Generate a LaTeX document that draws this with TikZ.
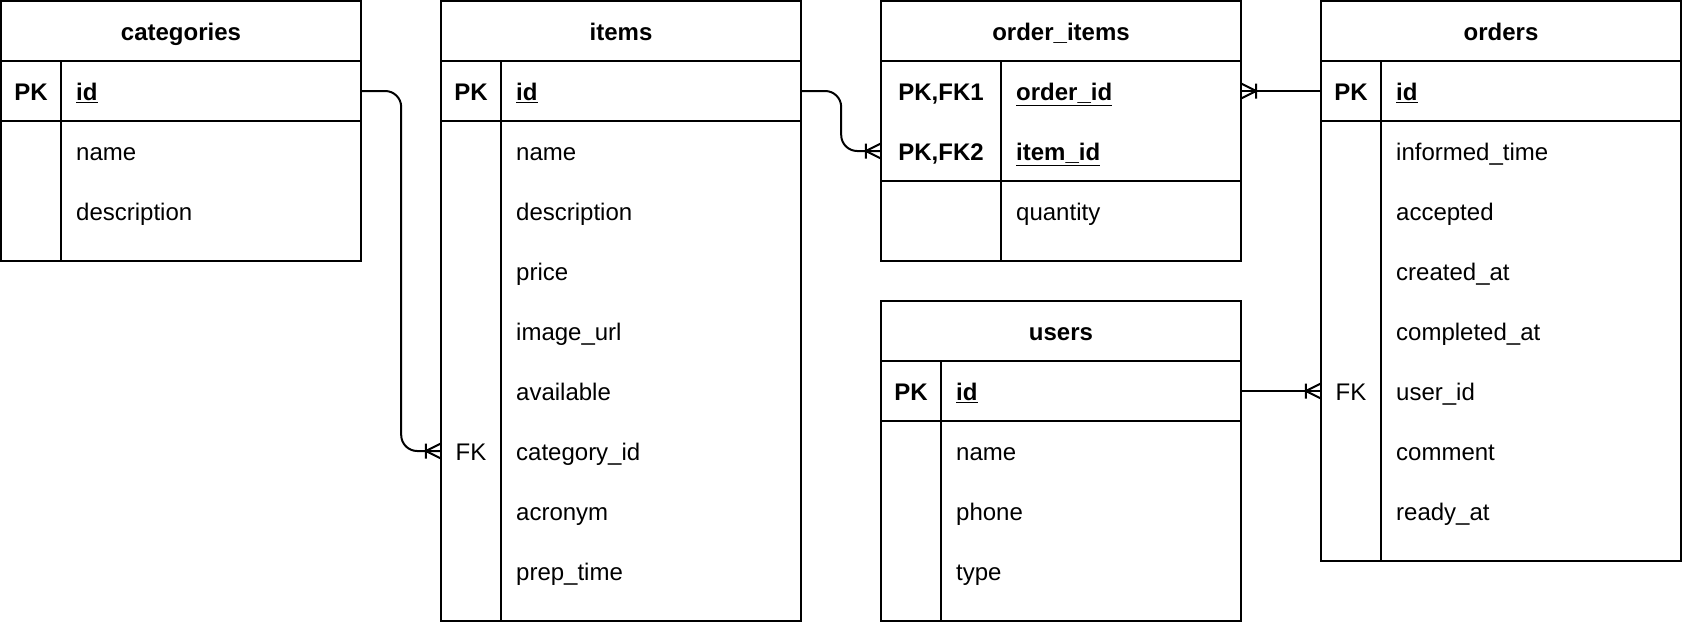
\documentclass[tikz,border=0pt]{standalone}
\usepackage{fontspec}
\setmainfont{Liberation Sans}
\usetikzlibrary{calc}
\tikzset{
  tbl/.style={draw=black, line width=2pt},
  conn/.style={draw=black, line width=2pt, line join=round},
  rowspan/.style={draw=none, inner sep=0pt, minimum width=360pt, minimum height=60pt},
  txtbase/.style={inner sep=0pt, text height=19pt, text depth=0pt, font=\fontsize{24}{29}\selectfont},
  keytxt/.style={txtbase, anchor=center},
  fldtxt/.style={txtbase, anchor=west},
  hdr/.style={txtbase, anchor=center, font=\fontsize{24}{29}\selectfont\bfseries},
  crowfoot/.pic={\draw[conn] (0,-7.5) -- (-15,0) -- (0,7.5) (-15,-7.5) -- (-15,7.5);}
}
\newcommand{\erfield}[6]{%
  \node[rowspan] (#1) at ({#2+180},#4) {};
  \node[keytxt] at ({#2+#3/2},#4) {#5};
  \node[fldtxt] at ({#2+#3+15},#4) {#6};
}
\begin{document}
\begin{tikzpicture}[x=1pt, y=-1pt]
\useasboundingbox (0,0) rectangle (1682,622);

% categories
\draw[tbl] (1,1) rectangle (361,261);
\draw[tbl] (1,61) -- (361,61) (1,121) -- (361,121) (61,61) -- (61,261);
\node[hdr] (cat) at (181,31) {categories};
\erfield{cat-id}{1}{60}{91}{\textbf{PK}}{\textbf{\underline{id}}}
\erfield{cat-name}{1}{60}{151}{}{name}
\erfield{cat-desc}{1}{60}{211}{}{description}

% items
\draw[tbl] (441,1) rectangle (801,621);
\draw[tbl] (441,61) -- (801,61) (441,121) -- (801,121) (501,61) -- (501,621);
\node[hdr] (items) at (621,31) {items};
\erfield{it-id}{441}{60}{91}{\textbf{PK}}{\textbf{\underline{id}}}
\erfield{it-name}{441}{60}{151}{}{name}
\erfield{it-desc}{441}{60}{211}{}{description}
\erfield{it-price}{441}{60}{271}{}{price}
\erfield{it-img}{441}{60}{331}{}{image\_url}
\erfield{it-avail}{441}{60}{391}{}{available}
\erfield{it-cat}{441}{60}{451}{FK}{category\_id}
\erfield{it-acr}{441}{60}{511}{}{acronym}
\erfield{it-prep}{441}{60}{571}{}{prep\_time}

% order_items
\draw[tbl] (881,1) rectangle (1241,261);
\draw[tbl] (881,61) -- (1241,61) (881,181) -- (1241,181) (1001,61) -- (1001,261);
\node[hdr] (oi) at (1061,31) {order\_items};
\erfield{oi-fk1}{881}{120}{91}{\textbf{PK,FK1}}{\textbf{\underline{order\_id}}}
\erfield{oi-fk2}{881}{120}{151}{\textbf{PK,FK2}}{\textbf{\underline{item\_id}}}
\erfield{oi-qty}{881}{120}{211}{}{quantity}

% users
\draw[tbl] (881,301) rectangle (1241,621);
\draw[tbl] (881,361) -- (1241,361) (881,421) -- (1241,421) (941,361) -- (941,621);
\node[hdr] (users) at (1061,331) {users};
\erfield{us-id}{881}{60}{391}{\textbf{PK}}{\textbf{\underline{id}}}
\erfield{us-name}{881}{60}{451}{}{name}
\erfield{us-phone}{881}{60}{511}{}{phone}
\erfield{us-type}{881}{60}{571}{}{type}

% orders
\draw[tbl] (1321,1) rectangle (1681,561);
\draw[tbl] (1321,61) -- (1681,61) (1321,121) -- (1681,121) (1381,61) -- (1381,561);
\node[hdr] (orders) at (1501,31) {orders};
\erfield{or-id}{1321}{60}{91}{\textbf{PK}}{\textbf{\underline{id}}}
\erfield{or-inf}{1321}{60}{151}{}{informed\_time}
\erfield{or-acc}{1321}{60}{211}{}{accepted}
\erfield{or-cre}{1321}{60}{271}{}{created\_at}
\erfield{or-com}{1321}{60}{331}{}{completed\_at}
\erfield{or-uid}{1321}{60}{391}{FK}{user\_id}
\erfield{or-cmt}{1321}{60}{451}{}{comment}
\erfield{or-rdy}{1321}{60}{511}{}{ready\_at}

% connectors
\draw[conn, rounded corners=16pt] (cat-id.east) -- ++(40,0) |- (it-cat.west);
\pic at (it-cat.west) {crowfoot};
\draw[conn, rounded corners=16pt] (it-id.east) -- ++(40,0) |- (oi-fk2.west);
\pic at (oi-fk2.west) {crowfoot};
\draw[conn] (or-id.west) -- (oi-fk1.east);
\pic[xscale=-1] at (oi-fk1.east) {crowfoot};
\draw[conn] (us-id.east) -- (or-uid.west);
\pic at (or-uid.west) {crowfoot};
\end{tikzpicture}
\end{document}
